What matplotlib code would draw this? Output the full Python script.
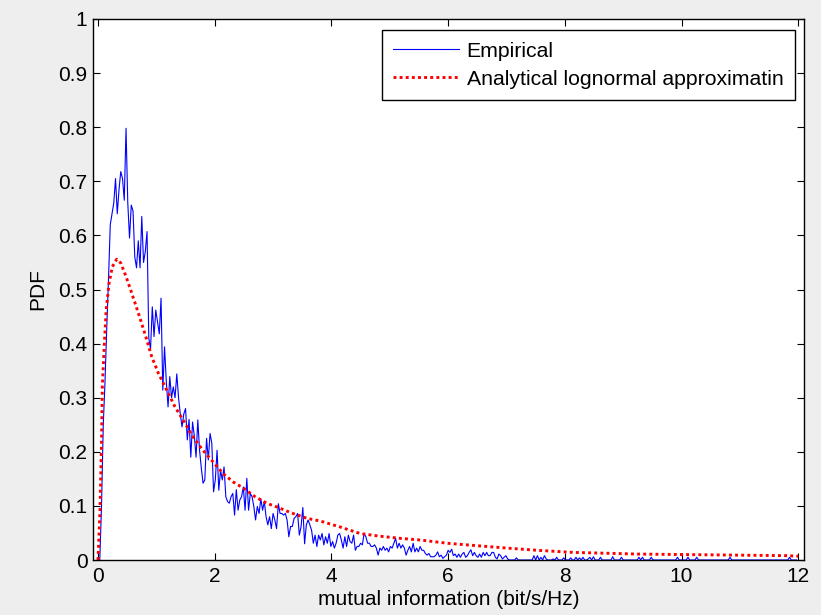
import numpy as np
import matplotlib
matplotlib.use("Agg")
import matplotlib.pyplot as plt

# ---------------- data ----------------
bin_width = 0.03
emp_pdf = [
    0, 0.0, 0.10, 0.25, 0.33, 0.43, 0.52, 0.62, 0.64, 0.66,
    0.705, 0.64, 0.685, 0.718, 0.705, 0.665, 0.798, 0.66, 0.595, 0.656,
    0.645, 0.56, 0.54, 0.59, 0.54, 0.635, 0.55, 0.57, 0.607, 0.41,
    0.39, 0.468, 0.413, 0.462, 0.44, 0.418, 0.484, 0.314, 0.394, 0.33,
    0.283, 0.339, 0.30, 0.32, 0.30, 0.344, 0.30, 0.27, 0.246, 0.27,
    0.28, 0.222, 0.26, 0.19, 0.255, 0.23, 0.19, 0.259, 0.203, 0.17,
    0.142, 0.148, 0.225, 0.185, 0.234, 0.216, 0.126, 0.148, 0.203, 0.129,
    0.166, 0.148, 0.172, 0.117, 0.108, 0.105, 0.117, 0.123, 0.083, 0.13,
    0.092, 0.111, 0.117, 0.135, 0.092, 0.151, 0.092, 0.123, 0.117, 0.099,
    0.074, 0.099, 0.086, 0.113, 0.092, 0.108, 0.080, 0.065, 0.080, 0.058,
    0.086, 0.074, 0.058, 0.104, 0.086, 0.086, 0.083, 0.086, 0.074, 0.043,
    0.062, 0.062, 0.077, 0.080, 0.086, 0.046, 0.062, 0.097, 0.030, 0.065,
    0.074, 0.065, 0.055, 0.031, 0.046, 0.025, 0.046, 0.037, 0.049, 0.028,
    0.043, 0.031, 0.049, 0.025, 0.034, 0.022, 0.031, 0.046, 0.049, 0.037,
    0.022, 0.043, 0.025, 0.046, 0.034, 0.031, 0.046, 0.018, 0.025, 0.025,
    0.031, 0.028, 0.049, 0.043, 0.031, 0.031, 0.025, 0.025, 0.028, 0.022,
    0.009, 0.022, 0.018, 0.025, 0.018, 0.022, 0.015, 0.025, 0.022, 0.031,
    0.040, 0.022, 0.031, 0.022, 0.028, 0.022, 0.009, 0.018, 0.025, 0.015,
    0.031, 0.015, 0.022, 0.015, 0.025, 0.018, 0.018, 0.012, 0.009, 0.012,
    0.006, 0.006, 0.006, 0.009, 0.015, 0.006, 0.009, 0.003, 0.006, 0.009,
    0.018, 0.014, 0.020, 0.008, 0.011, 0.005, 0.011, 0.005, 0.011, 0.014,
    0.005, 0.008, 0.014, 0.019, 0.008, 0.014, 0.008, 0.005, 0.011, 0.005,
    0.014, 0.008, 0.014, 0.008, 0.008, 0.014, 0.014, 0.005, 0.002, 0.011,
    0.008, 0.002, 0.005, 0.008, 0.002, 0, 0, 0, 0, 0.004,
    0, 0, 0, 0, 0, 0, 0, 0, 0, 0.008,
    0, 0.008, 0, 0.005, 0, 0.008, 0.002, 0, 0, 0,
    0.002, 0, 0.005, 0, 0, 0, 0.004, 0, 0, 0,
    0.004, 0, 0, 0.005, 0, 0.004, 0, 0.005, 0, 0,
    0.002, 0.005, 0, 0.006, 0, 0, 0, 0.005, 0, 0,
    0, 0, 0, 0, 0.006, 0, 0, 0, 0, 0.005,
    0, 0, 0, 0, 0, 0, 0, 0, 0, 0.005,
    0, 0.005, 0, 0, 0, 0, 0.005, 0, 0, 0,
    0, 0, 0, 0, 0, 0, 0, 0, 0, 0,
    0, 0.005, 0, 0, 0, 0, 0, 0.005, 0, 0,
    0, 0, 0.005, 0, 0, 0, 0, 0, 0, 0,
    0, 0, 0, 0, 0, 0, 0, 0, 0, 0,
    0, 0.005, 0, 0, 0, 0, 0, 0, 0, 0,
    0, 0, 0, 0, 0, 0, 0, 0, 0, 0,
    0, 0, 0, 0, 0, 0, 0, 0, 0, 0,
    0, 0, 0, 0, 0, 0.005, 0, 0, 0, 0,
]
emp_x = np.arange(len(emp_pdf)) * bin_width

lognorm_x = [0, 0.034, 0.06, 0.074, 0.109, 0.14, 0.19, 0.245, 0.32, 0.39,
             0.48, 0.56, 0.634, 0.72, 0.835, 0.92, 1.035, 1.178, 1.32, 1.49,
             1.60, 1.72, 1.805, 1.95, 2.15, 2.32, 2.49, 2.69, 2.89, 3.09,
             3.29, 3.58, 3.81, 4.15, 4.49, 4.83, 5.18, 5.52, 5.98, 6.43,
             7.01, 7.52, 8.15, 8.89, 9.23, 10.09, 11.8, 12.0]
lognorm_y = [0, 0.092, 0.216, 0.32, 0.40, 0.462, 0.512, 0.542, 0.556, 0.549,
             0.524, 0.499, 0.475, 0.447, 0.407, 0.376, 0.345, 0.314, 0.283, 0.253,
             0.232, 0.214, 0.202, 0.184, 0.159, 0.144, 0.133, 0.117, 0.105, 0.097,
             0.088, 0.077, 0.072, 0.061, 0.049, 0.044, 0.040, 0.037, 0.031, 0.027,
             0.022, 0.018, 0.014, 0.012, 0.011, 0.010, 0.008, 0.007]

x_ticks = [0, 2, 4, 6, 8, 10, 12]
y_ticks = [0, 0.1, 0.2, 0.3, 0.4, 0.5, 0.6, 0.7, 0.8, 0.9, 1]
y_ticklabels = ["0", "0.1", "0.2", "0.3", "0.4", "0.5", "0.6", "0.7", "0.8", "0.9", "1"]

# ---------------- figure ----------------
plt.rcParams['font.family'] = ['Liberation Sans', 'DejaVu Sans']
fig = plt.figure(figsize=(8.21, 6.15), dpi=100, facecolor='#eeeeee')
ax = fig.add_axes([93 / 821, 55 / 615, 710.5 / 821, 541 / 615])
ax.set_facecolor('white')

ax.plot(emp_x, emp_pdf, color='#0000ff', lw=0.8, label='Empirical')
ax.plot(lognorm_x, lognorm_y, color='#ff0000', lw=2.1,
        linestyle=(0, (1, 1.1)), label='Analytical lognormal approximatin')

ax.set_xlim(-0.086, 12.09)
ax.set_ylim(0, 1)
ax.set_xticks(x_ticks)
ax.set_xticklabels([str(t) for t in x_ticks])
ax.set_yticks(y_ticks)
ax.set_yticklabels(y_ticklabels)

ax.tick_params(direction='in', length=5, width=0.8, top=True, right=True,
               labelsize=15, colors='black')
ax.tick_params(axis='x', pad=5)
ax.tick_params(axis='y', pad=4)
for s in ax.spines.values():
    s.set_linewidth(1.0)
    s.set_color('black')

ax.set_xlabel('mutual information (bit/s/Hz)', fontsize=15, labelpad=3)
ax.set_ylabel('PDF', fontsize=15, labelpad=8)

leg = ax.legend(loc='upper right', bbox_to_anchor=(795 / 821, 1 - 30 / 615),
                bbox_transform=fig.transFigure, borderaxespad=0,
                fancybox=False, framealpha=1, edgecolor='black',
                fontsize=15.3, handlelength=3.1, handletextpad=0.35,
                borderpad=0.55, labelspacing=0.42)
leg.get_frame().set_linewidth(1.0)

fig.savefig('out.png', dpi=100, facecolor=fig.get_facecolor())
